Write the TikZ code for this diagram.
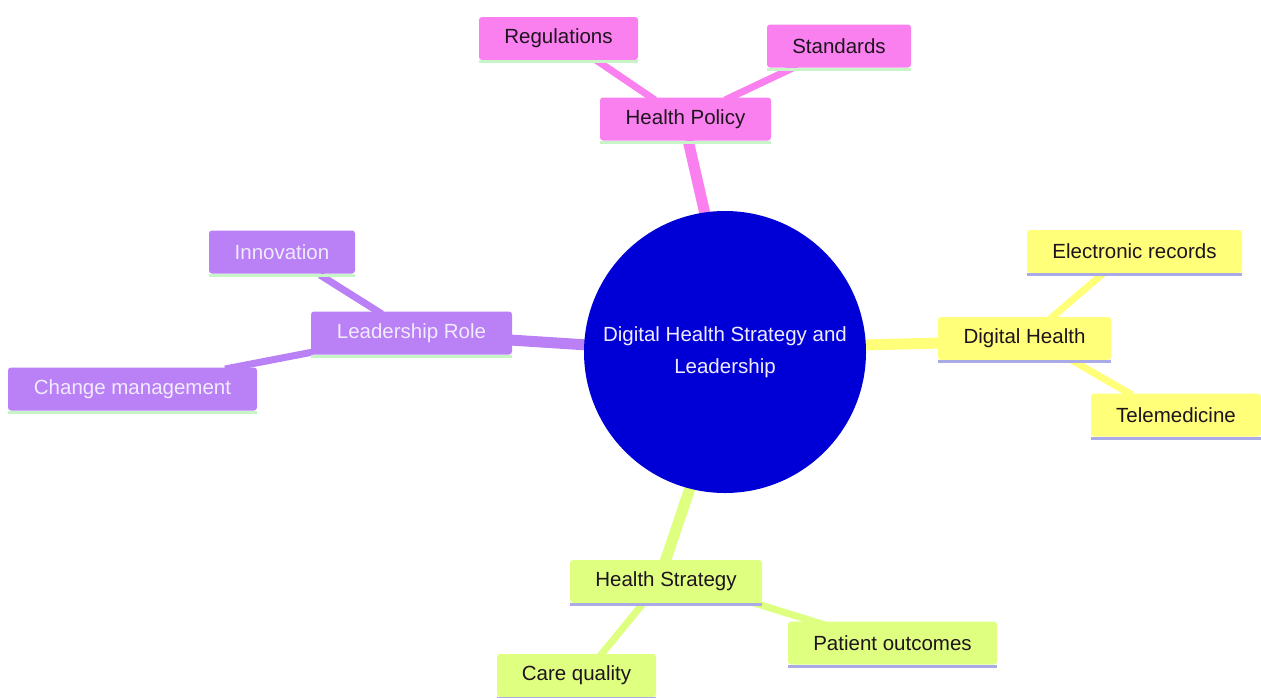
\documentclass[tikz,border=0pt]{standalone}
\usepackage{fontspec}
\setmainfont{Liberation Sans}
\definecolor{rootblue}{RGB}{0,0,214}
\definecolor{pinkc}{RGB}{250,128,240}
\definecolor{purplec}{RGB}{186,128,245}
\definecolor{yellowc}{RGB}{255,255,122}
\definecolor{limec}{RGB}{222,255,128}
\definecolor{greenb}{RGB}{200,245,200}
\definecolor{lavb}{RGB}{170,170,230}
\definecolor{darktext}{RGB}{30,20,30}
\definecolor{lighttext}{RGB}{240,235,255}
\tikzset{
  mm/.style={rectangle, rounded corners=3pt, inner sep=0pt, minimum height=43pt,
    font=\fontsize{20.5}{24}\selectfont},
  pinkn/.style={mm, fill=pinkc, text=darktext},
  purplen/.style={mm, fill=purplec, text=lighttext},
  yellown/.style={mm, fill=yellowc, text=darktext},
  limen/.style={mm, fill=limec, text=darktext},
  e1/.style={line width=11pt},
  e2/.style={line width=7pt},
  bline/.style={line width=3pt},
}
\begin{document}
\begin{tikzpicture}[x=1pt,y=-1pt]
\useasboundingbox[fill=white] (0,0) rectangle (1261,697);
% coordinates for edges
\coordinate (rHP) at (705,214);
\coordinate (rLR) at (588,345);
\coordinate (rDH) at (862,345);
\coordinate (rHS) at (690,488);
% edges (behind nodes)
\draw[e1, pinkc] (rHP) -- (688,140);
\draw[e2, pinkc] (655,100) -- (593,58);
\draw[e2, pinkc] (725,100) -- (797,66);
\draw[e1, purplec] (rLR) -- (510,340);
\draw[e2, purplec] (382,314) -- (320,275);
\draw[e2, purplec] (313,352) -- (225,369);
\draw[e1, yellowc] (rDH) -- (940,343);
\draw[e2, yellowc] (1050,319) -- (1106,271);
\draw[e2, yellowc] (1068,358) -- (1132,395);
\draw[e1, limec] (rHS) -- (665,562);
\draw[e2, limec] (748,601) -- (825,625);
\draw[e2, limec] (645,601) -- (600,656);
% root
\node[circle, fill=rootblue, minimum size=282pt, inner sep=0pt, text=lighttext,
  align=center, font=\fontsize{20.5}{32}\selectfont] (root) at (725,352)
  {Digital Health Strategy and\\Leadership};
% pink branch
\node[pinkn, minimum width=171pt] (hp) at (685.5,119) {Health Policy};
\node[pinkn, minimum width=159pt] (reg) at (558.5,38.5) {Regulations};
\node[pinkn, minimum width=144pt] (std) at (839,46) {Standards};
% purple branch
\node[purplen, minimum width=201pt] (lr) at (411.5,333) {Leadership Role};
\node[purplen, minimum width=146pt] (inn) at (282,252) {Innovation};
\node[purplen, minimum width=249pt] (cm) at (132.5,389) {Change management};
% yellow branch
\node[yellown, minimum width=173pt] (dh) at (1024.5,338.5) {Digital Health};
\node[yellown, minimum width=215pt] (er) at (1134.5,251.5) {Electronic records};
\node[yellown, minimum width=170pt] (tm) at (1176,415) {Telemedicine};
% lime branch
\node[limen, minimum width=192pt] (hs) at (666,581.5) {Health Strategy};
\node[limen, minimum width=209pt] (po) at (892.5,643) {Patient outcomes};
\node[limen, minimum width=159pt] (cq) at (576.5,675.5) {Care quality};
% bottom borders
\foreach \n in {hp,reg,std,lr,inn,cm}
  \draw[bline, greenb] ([yshift=-1.5pt]\n.south west) -- ([yshift=-1.5pt]\n.south east);
\foreach \n in {dh,er,tm,hs,po,cq}
  \draw[bline, lavb] ([yshift=-1.5pt]\n.south west) -- ([yshift=-1.5pt]\n.south east);
\end{tikzpicture}
\end{document}
